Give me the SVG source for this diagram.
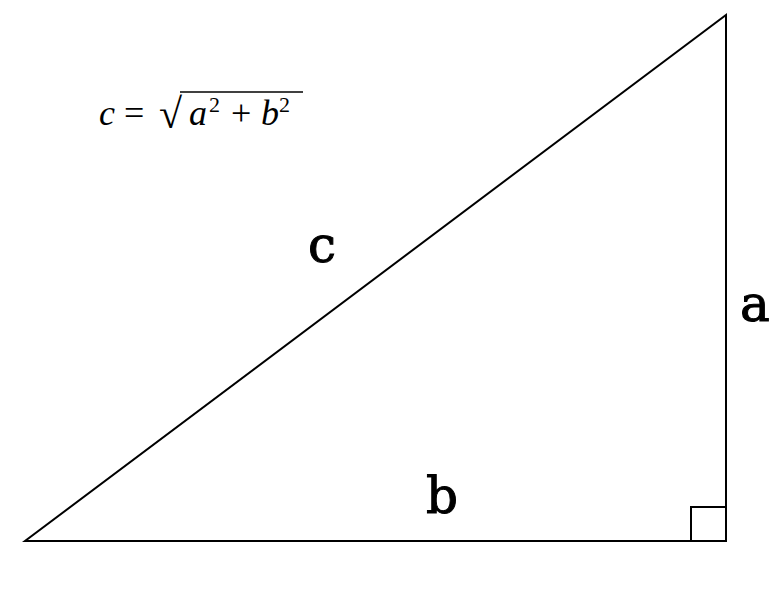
<svg xmlns="http://www.w3.org/2000/svg" width="780" height="591" viewBox="0 0 780 591">
<style>
.ln{fill:none;stroke:#000;stroke-width:2}
.lbl{font-family:"DejaVu Serif",serif;font-size:50px;fill:#000;stroke:#000;stroke-width:1}
.f{font-family:"Liberation Serif",serif;font-size:36px;fill:#000}
.fi{font-style:italic}
.sup{font-size:22px}
.rad{font-size:42px}
</style>
<rect width="780" height="591" fill="#fff"/>
<g id="triangle">
<polygon class="ln" points="25,541 726,541 726,15"/>
<polyline class="ln" points="691,541 691,507 726,507"/>
</g>
<g id="labels">
<text class="lbl" x="322" y="262" text-anchor="middle">c</text>
<text class="lbl" x="442" y="513" text-anchor="middle">b</text>
<text class="lbl" x="755" y="321" text-anchor="middle">a</text>
</g>
<g id="formula">
<text class="f" y="125"><tspan class="fi" x="99">c</tspan><tspan x="124">=</tspan><tspan class="rad" x="159" y="128">√</tspan><tspan class="fi" x="189" y="125">a</tspan><tspan class="sup" x="209" y="112">2</tspan><tspan x="231" y="125">+</tspan><tspan class="fi" x="261" y="125">b</tspan><tspan class="sup" x="279" y="112">2</tspan></text>
<line x1="180" y1="92" x2="303" y2="92" stroke="#000" stroke-width="1.5"/>
</g>
</svg>
